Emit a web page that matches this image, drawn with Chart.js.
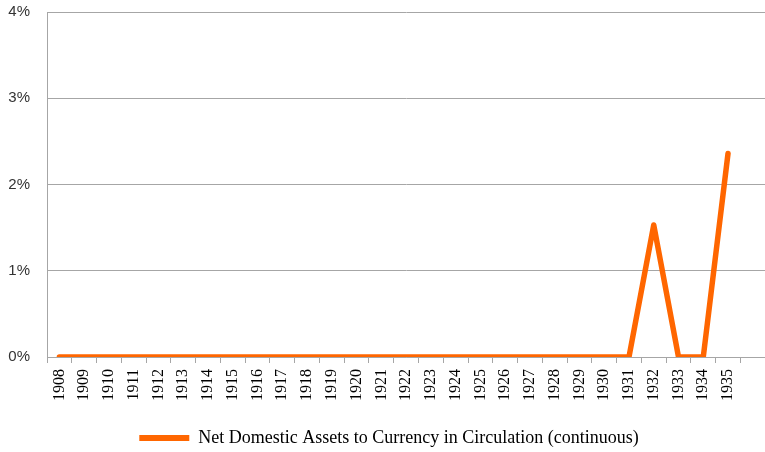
<!DOCTYPE html>
<html>
<head>
<meta charset="utf-8">
<script src="https://cdn.jsdelivr.net/npm/chart.js@4"></script>
<style>
  html, body { margin:0; padding:0; background:#fff; overflow:hidden; }
  #wrap { width:778px; height:452px; overflow:hidden; }
</style>
</head>
<body>
<div id="wrap"><canvas id="c" width="778" height="457"></canvas></div>
<script>
  // data
  const years = ['1908','1909','1910','1911','1912','1913','1914','1915','1916','1917','1918','1919','1920','1921',
                 '1922','1923','1924','1925','1926','1927','1928','1929','1930','1931','1932','1933','1934','1935',''];
  const ndaValues = [0,0,0,0,0,0,0,0,0,0,0,0,0,0,
                     0,0,0,0,0,0,0,0,0,0,1.53,0,0,2.36,null];
  const seriesName = 'Net Domestic Assets to Currency in Circulation (continuous)';
  const orange = '#ff6600';
  const gridGrey = '#a6a6a6';

  new Chart(document.getElementById('c'), {
    type: 'line',
    data: {
      labels: years,
      datasets: [{
        label: seriesName,
        data: ndaValues,
        borderColor: orange,
        backgroundColor: orange,
        borderWidth: 5.5,
        borderCapStyle: 'round',
        borderJoinStyle: 'round',
        pointRadius: 0,
        tension: 0
      }]
    },
    options: {
      responsive: false,
      animation: false,
      layout: { padding: { top: 0, left: 0, right: 0, bottom: 0 } },
      plugins: {
        tooltip: { enabled: false },
        legend: {
          position: 'bottom',
          labels: {
            font: { family: 'Liberation Serif', size: 18 },
            color: '#000',
            boxWidth: 50,
            boxHeight: 6,
            padding: 10,
            useBorderRadius: true,
            borderRadius: 3,
            generateLabels: (chart) => [{
              text: seriesName,
              fillStyle: orange,
              strokeStyle: orange,
              lineWidth: 0,
              datasetIndex: 0
            }]
          }
        }
      },
      scales: {
        x: {
          offset: true,
          grid: { display: true, drawOnChartArea: false, drawTicks: true, tickLength: 6, color: gridGrey, offset: true },
          border: { color: gridGrey },
          afterFit: (s) => { s.height += 12; },
          ticks: {
            autoSkip: false,
            maxRotation: 90,
            minRotation: 90,
            padding: 6,
            color: '#000',
            font: { family: 'Liberation Serif', size: 16 }
          }
        },
        y: {
          min: 0,
          max: 4,
          grid: { color: gridGrey, drawTicks: false },
          border: { color: gridGrey },
          afterFit: (s) => { s.width = 47; s.paddingTop = 12; },
          ticks: {
            stepSize: 1,
            padding: 17,
            color: '#333',
            font: { family: 'Liberation Sans', size: 15 },
            callback: (v) => v + '%'
          }
        }
      }
    }
  });
</script>
</body>
</html>
